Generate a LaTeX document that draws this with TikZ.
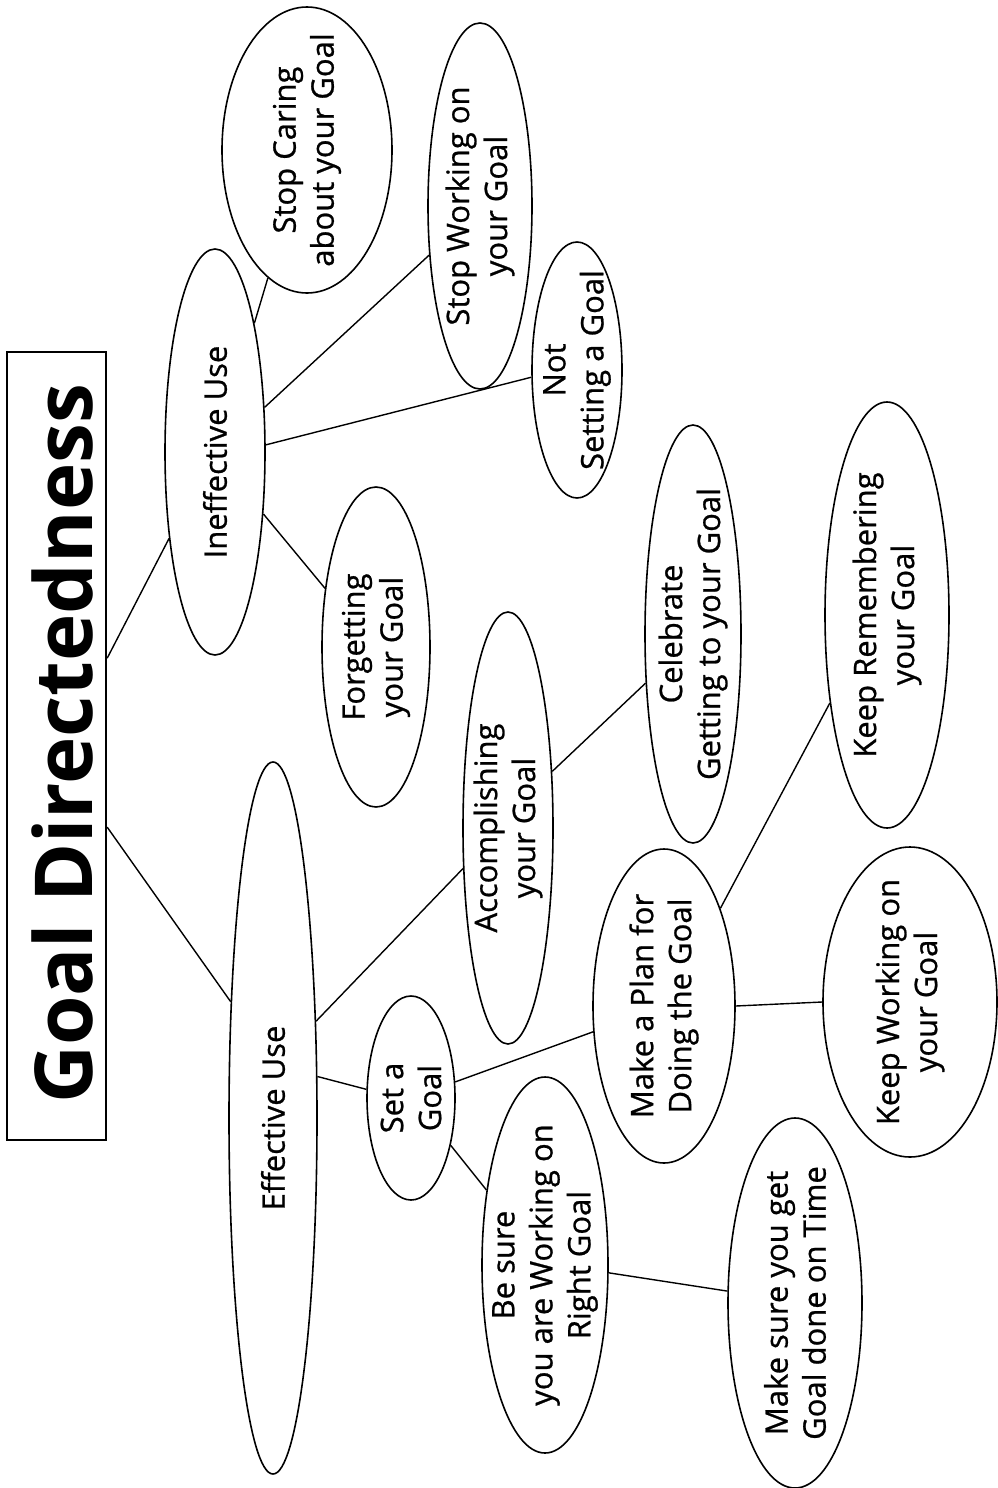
\documentclass[tikz,border=0pt]{standalone}
\usepackage{fontspec}
\setmainfont{Open Sans}
\newfontfamily\lblfont{Open Sans}[FakeBold=0.8]
\usetikzlibrary{shapes.geometric}
\tikzset{
  bub/.style={ellipse,draw,line width=0.8pt,inner sep=0pt},
  lbl/.style={rotate=90,align=center,inner sep=0pt,font=\lblfont\fontsize{15.5}{19}\selectfont},
  link/.style={line width=0.7pt},
}
\begin{document}
\begin{tikzpicture}[x=0.5pt,y=-0.5pt]
\useasboundingbox (0,0) rectangle (997,1488);

% title box
\node[draw,line width=1.2pt,minimum width=49.5pt,minimum height=394pt,inner sep=0pt] (title) at (56.5,746) {};
\node[rotate=90,inner sep=0pt,font=\fontsize{40}{46}\bfseries\selectfont] (titletext) at (62,744) {Goal Directedness};

% bubbles (minimum width = x radius, minimum height = y radius, in pt)
\node[bub,minimum width=50pt,minimum height=203pt] (ineff)  at (215,452)  {};
\node[bub,minimum width=85pt,minimum height=143pt] (care)   at (307,150)  {};
\node[bub,minimum width=52pt,minimum height=183pt] (swork)  at (480,206)  {};
\node[bub,minimum width=45pt,minimum height=128pt] (notset) at (577,370)  {};
\node[bub,minimum width=54pt,minimum height=160pt] (forget) at (376,647)  {};
\node[bub,minimum width=44pt,minimum height=356pt] (eff)    at (273,1118) {};
\node[bub,minimum width=45pt,minimum height=216pt] (accomp) at (508,828)  {};
\node[bub,minimum width=48pt,minimum height=209pt] (celeb)  at (693,634)  {};
\node[bub,minimum width=62pt,minimum height=213pt] (rememb) at (887,615)  {};
\node[bub,minimum width=44pt,minimum height=102pt] (setg)   at (411,1098) {};
\node[bub,minimum width=71pt,minimum height=157pt] (plan)   at (664,1006) {};
\node[bub,minimum width=87pt,minimum height=155pt] (kwork)  at (910,1002) {};
\node[bub,minimum width=63pt,minimum height=188pt] (besure) at (545,1265) {};
\node[bub,minimum width=67pt,minimum height=185pt] (ontime) at (795,1303) {};

% labels
\node[lbl] (t-ineff)  at (ineff)  {Ineffective Use};
\node[lbl] (t-care)   at (care)   {Stop Caring\\about your Goal};
\node[lbl] (t-swork)  at (swork)  {Stop Working on\\your Goal};
\node[lbl] (t-notset) at (notset) {Not\\Setting a Goal};
\node[lbl] (t-forget) at (forget) {Forgetting\\your Goal};
\node[lbl] (t-eff)    at (eff)    {Effective Use};
\node[lbl] (t-accomp) at (accomp) {Accomplishing\\your Goal};
\node[lbl] (t-celeb)  at (celeb)  {Celebrate\\Getting to your Goal};
\node[lbl] (t-rememb) at (rememb) {Keep Remembering\\your Goal};
\node[lbl] (t-setg)   at (setg)   {Set a\\Goal};
\node[lbl] (t-plan)   at (plan)   {Make a Plan for\\Doing the Goal};
\node[lbl] (t-kwork)  at (kwork)  {Keep Working on\\your Goal};
\node[lbl] (t-besure) at (besure) {Be sure\\you are Working on\\Right Goal};
\node[lbl] (t-ontime) at (ontime) {Make sure you get\\Goal done on Time};

% connectors
\draw[link] (title.60)   -- (ineff.-118);
\draw[link] (title.-58)  -- (eff.110);
\draw[link] (ineff.73)   -- (care.-107);
\draw[link] (ineff.42)   -- (swork.-136);
\draw[link] (ineff.8)    -- (notset.189);
\draw[link] (ineff.-52)  -- (forget.131);
\draw[link] (eff.66)     -- (accomp.-138);
\draw[link] (eff.43)     -- (setg.169);
\draw[link] (accomp.52)  -- (celeb.-134);
\draw[link] (setg.20)    -- (plan.-160);
\draw[link] (setg.-50)   -- (besure.128);
\draw[link] (plan.60)    -- (rememb.-123);
\draw[link] (plan.0)     -- (kwork.180);
\draw[link] (besure.-7)  -- (ontime.170);
\end{tikzpicture}
\end{document}
